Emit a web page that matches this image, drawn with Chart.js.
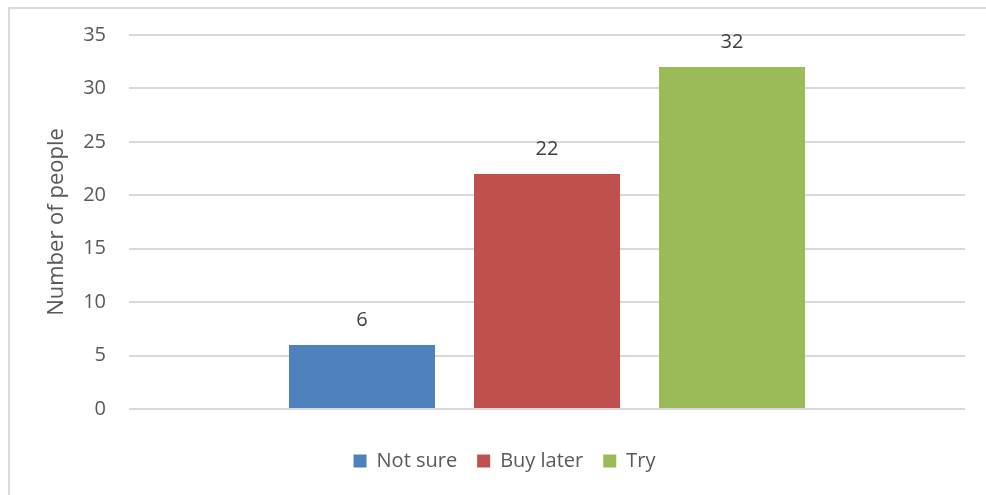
<!DOCTYPE html>
<html>
<head>
<meta charset="utf-8">
<script src="https://cdn.jsdelivr.net/npm/chart.js@4.4.0/dist/chart.umd.min.js"></script>
<style>
    html, body { margin: 0; padding: 0; background: #fff; }
    #wrap { position: relative; width: 986px; height: 495px; }
</style>
</head>
<body>
<div id="wrap"><canvas id="answersChart"></canvas></div>
<script>
// ответы на опрос
const seriesNames = ['Not sure', 'Buy later', 'Try'];
const seriesValues = [6, 22, 32];
const seriesColors = ['#4F81BD', '#C0504D', '#9BBB59'];
const yTicks = [0, 5, 10, 15, 20, 25, 30, 35];
const yTitle = 'Number of people';

const FONT = "'Open Sans', sans-serif";

// рамка вокруг всей диаграммы
const framePlugin = {
    id: 'frame',
    beforeDraw(chart) {
        const ctx = chart.ctx;
        ctx.save();
        ctx.fillStyle = '#fff';
        ctx.fillRect(0, 0, chart.width, chart.height);
        ctx.strokeStyle = '#D9D9D9';
        ctx.lineWidth = 2;
        ctx.strokeRect(9, 8, chart.width + 10, chart.height + 10);
        ctx.restore();
    }
};

// подписи значений над столбиками
const valueLabels = {
    id: 'valueLabels',
    afterDatasetsDraw(chart) {
        const ctx = chart.ctx;
        ctx.save();
        ctx.font = '20px ' + FONT;
        ctx.fillStyle = '#404040';
        ctx.textAlign = 'center';
        ctx.textBaseline = 'middle';
        chart.data.datasets.forEach((ds, i) => {
            chart.getDatasetMeta(i).data.forEach((bar, j) => {
                ctx.fillText(ds.data[j], bar.x, bar.y - 25);
            });
        });
        ctx.restore();
    }
};

new Chart(document.getElementById('answersChart'), {
    type: 'bar',
    data: {
        labels: [''],
        datasets: seriesNames.map((name, i) => ({
            label: name,
            data: [seriesValues[i]],
            backgroundColor: seriesColors[i],
            borderWidth: 0
        }))
    },
    options: {
        responsive: true,
        maintainAspectRatio: false,
        animation: false,
        categoryPercentage: 0.664,
        barPercentage: 0.789,
        layout: {
            padding: { left: 44, right: 21, top: 33, bottom: 14 }
        },
        scales: {
            x: {
                grid: { display: false },
                border: { display: false },
                ticks: { display: false },
                afterFit(scale) { scale.height = 22; }
            },
            y: {
                min: 0,
                max: 35,
                afterBuildTicks(scale) {
                    scale.ticks = yTicks.map(v => ({ value: v }));
                },
                afterFit(scale) { scale.width = 85; },
                grid: { color: '#D9D9D9', lineWidth: 2, drawTicks: false },
                border: { display: false },
                ticks: {
                    color: '#595959',
                    padding: 23,
                    font: { family: FONT, size: 20 }
                },
                title: {
                    display: true,
                    text: yTitle,
                    color: '#595959',
                    padding: 0,
                    font: { family: FONT, size: 22 }
                }
            }
        },
        plugins: {
            legend: {
                position: 'bottom',
                labels: {
                    color: '#595959',
                    boxWidth: 13,
                    boxHeight: 13,
                    padding: 20,
                    font: { family: FONT, size: 20 }
                }
            },
            tooltip: { enabled: false }
        }
    },
    plugins: [framePlugin, valueLabels]
});
</script>
</body>
</html>
